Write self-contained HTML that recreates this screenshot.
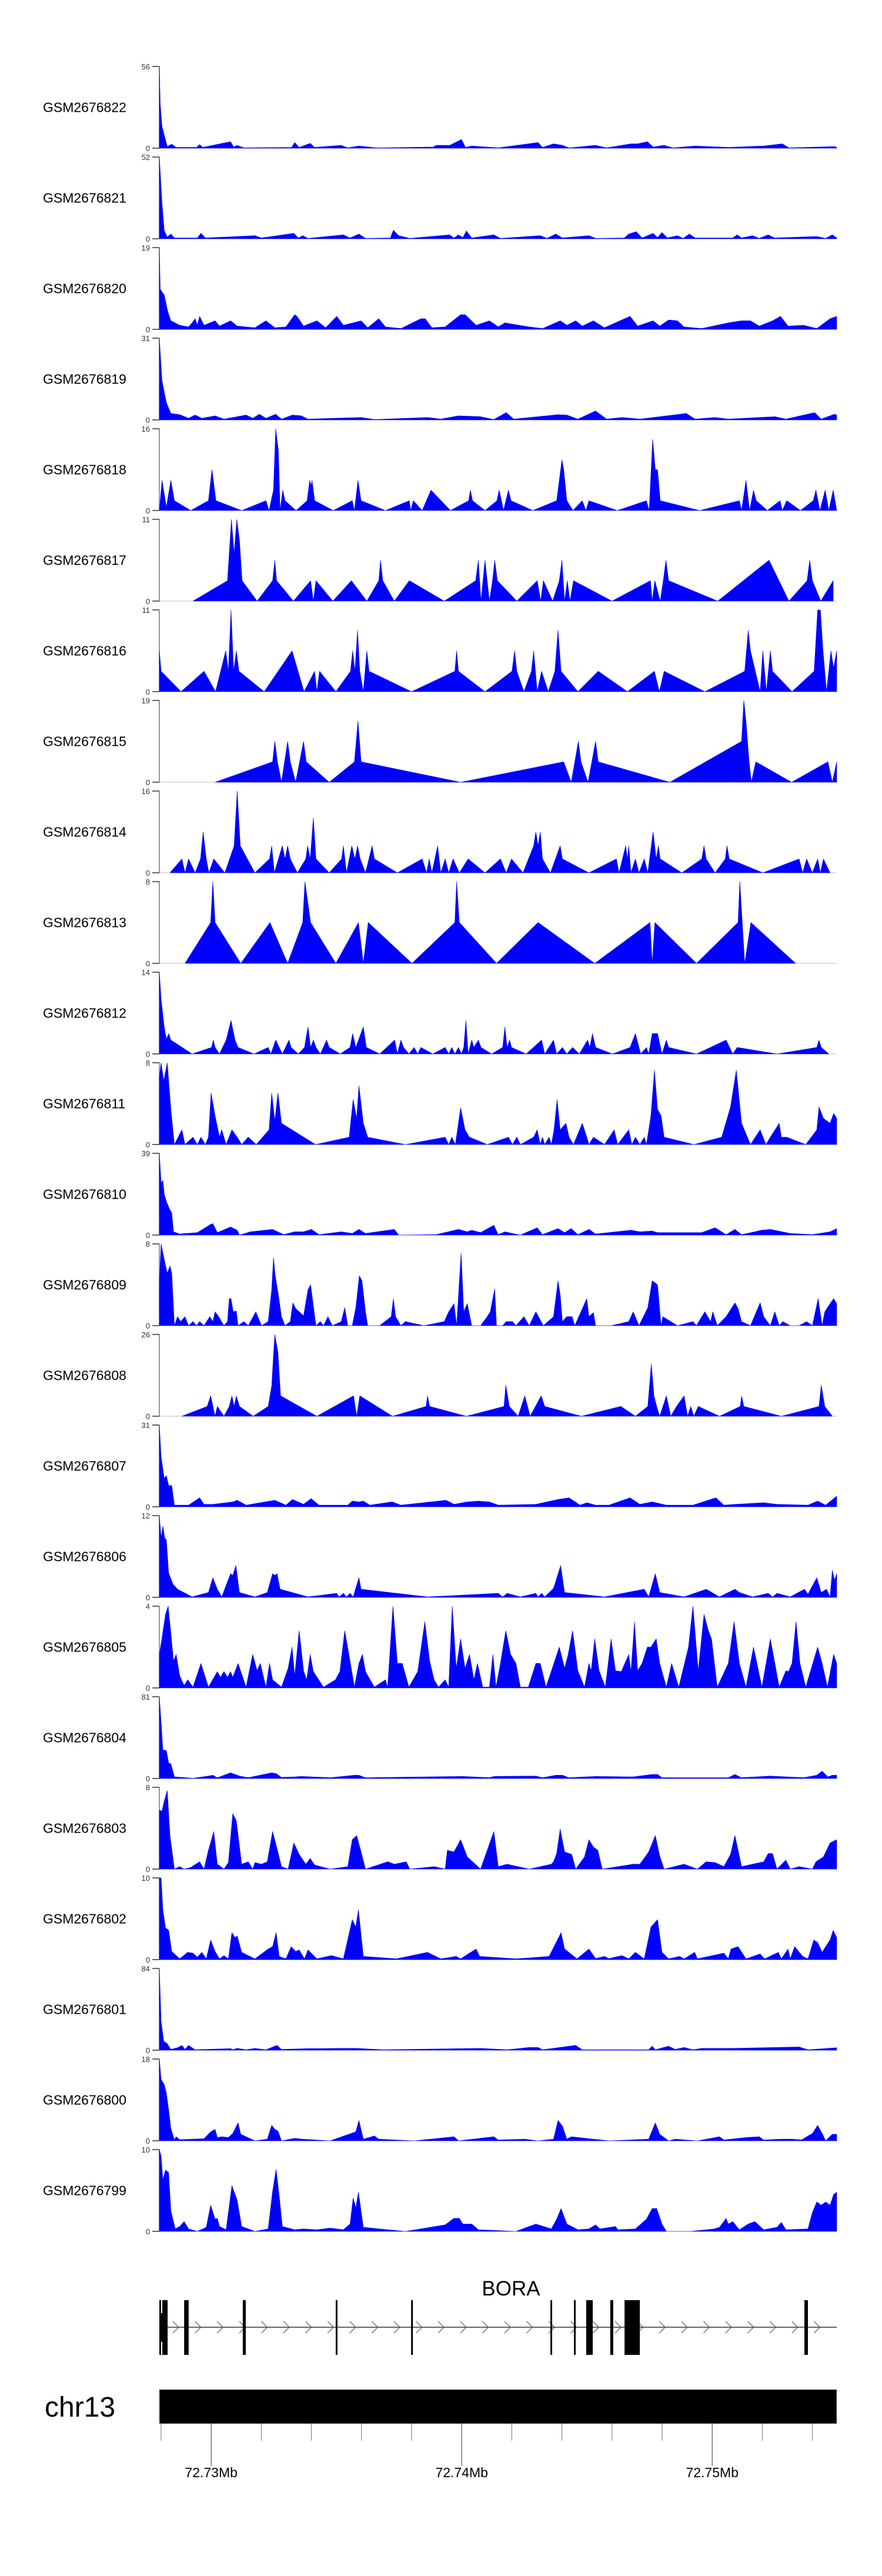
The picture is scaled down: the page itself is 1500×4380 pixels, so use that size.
<!DOCTYPE html>
<html>
<head>
<meta charset="utf-8">
<style>
  html,body{margin:0;padding:0;background:#fff;}
  svg{display:block;}
  text{font-family:"Liberation Sans",Arial,sans-serif;}
</style>
</head>
<body>
<svg id="chart" width="1500" height="4380" viewBox="0 0 1500 4380" xmlns="http://www.w3.org/2000/svg"></svg>
<script>
// ---- data ----
const sampleNames = ["GSM2676822","GSM2676821","GSM2676820","GSM2676819","GSM2676818","GSM2676817","GSM2676816","GSM2676815","GSM2676814","GSM2676813","GSM2676812","GSM2676811","GSM2676810","GSM2676809","GSM2676808","GSM2676807","GSM2676806","GSM2676805","GSM2676804","GSM2676803","GSM2676802","GSM2676801","GSM2676800","GSM2676799"];
const yMax = [56,52,19,31,16,11,11,19,16,8,14,8,39,8,26,31,12,4,81,8,10,84,18,10];
// coverage: [signal bin, % of track max]; bins 14..1545 span the genomic window
const cov1 = [[14,100],[16,54],[20,27],[25,16],[32,2],[42,5],[52,1],[98,1],[105,4.5],[112,1],[175,8],[182,1.5],[190,3.5],[205,0.5],[313,1],[320,7],[330,1],[355,6],[365,1],[425,3.5],[440,0.5],[465,2.7],[505,0.4],[633,1.5],[640,3.5],[670,3.5],[697,10.7],[706,1],[720,2.7],[780,0.5],[870,7],[880,1],[905,5.4],[925,3.5],[940,0.4],[1000,3.5],[1025,0.5],[1080,5.4],[1095,5.4],[1117,8],[1130,1.5],[1155,3.5],[1175,0.4],[1225,2.7],[1300,1],[1380,2.7],[1422,5.4],[1437,0.5],[1540,2],[1545,1]];
const cov2 = [[14,100],[20,44],[25,10],[32,2],[40,5.8],[48,1],[100,1],[108,6.7],[118,1],[230,3.8],[245,1],[318,6.7],[328,1],[338,3.8],[350,0.5],[430,4.8],[445,1],[465,5.8],[480,0.5],[536,1],[543,10.6],[555,3.8],[580,0.5],[670,4.8],[680,1],[690,4.8],[700,1.5],[708,9.6],[720,1],[770,4.8],[785,0.5],[875,3.8],[890,0.5],[910,5.8],[925,1],[985,3.8],[1000,0.5],[1065,1],[1075,5.8],[1092,8.7],[1105,1],[1130,6.7],[1140,1.5],[1150,7.7],[1162,1],[1185,3.8],[1198,0.5],[1212,5.8],[1225,1],[1310,1],[1320,4.8],[1330,1],[1355,3.8],[1370,0.5],[1390,4.8],[1405,1],[1500,2.9],[1520,0.5],[1535,4.8],[1545,1]];
const cov3 = [[14,100],[16,49],[25,42],[33,22],[40,10.5],[60,5],[80,3],[88,8],[95,13],[100,5],[105,16],[115,5],[140,10.5],[150,4],[175,10.5],[190,4],[230,2],[255,10.5],[275,2],[300,3],[320,18],[325,16],[340,4],[370,10.5],[390,2],[415,16],[430,5],[470,10.5],[485,2],[510,13],[525,3],[560,1],[605,13],[615,13],[630,2],[660,3],[695,18],[705,18],[730,5],[760,10.5],[780,3],[795,8],[850,3],[880,1],[920,10.5],[935,5],[955,10.5],[970,4],[995,10.5],[1020,2],[1078,16],[1095,4],[1130,10.5],[1145,4],[1165,11.5],[1185,10.5],[1200,3],[1240,1],[1300,8],[1330,10.5],[1350,10.5],[1370,4],[1400,10.5],[1418,16],[1435,4],[1470,5],[1500,1],[1530,13],[1545,16]];
const cov4 = [[14,100],[20,48],[30,21],[40,8],[60,6.5],[80,2],[95,6],[110,2],[140,5],[160,1],[210,6],[225,2],[240,7],[255,2],[277,7],[290,1],[315,6],[335,5],[350,1],[470,3],[500,0.5],[620,3],[650,1],[690,5],[740,4],[770,0.5],[798,9],[815,1],[915,6.5],[935,6],[960,1],[1000,11],[1025,1],[1060,3],[1100,1],[1205,8],[1225,1],[1270,3],[1300,1],[1405,4],[1430,1],[1495,9],[1510,1],[1540,7],[1545,6]];
const cov5 = [[14,0],[20,37],[30,4],[40,37],[48,12],[85,0],[125,12],[133,50],[142,12],[200,0],[255,12],[262,0],[272,25],[277,100],[283,74],[287,0],[293,25],[298,12],[323,0],[348,12],[354,37],[357,30],[359,37],[365,12],[407,0],[450,12],[455,0],[463,37],[470,12],[525,0],[579,12],[582,0],[588,12],[608,0],[628,25],[672,0],[713,12],[717,25],[722,12],[750,0],[777,12],[782,25],[792,0],[803,25],[809,12],[858,0],[912,12],[924,62],[928,50],[935,12],[949,0],[970,12],[978,0],[985,12],[1049,0],[1115,12],[1121,0],[1129,87],[1135,50],[1140,50],[1146,12],[1235,0],[1325,12],[1330,0],[1340,37],[1348,0],[1357,25],[1363,12],[1388,0],[1417,12],[1422,0],[1432,12],[1463,0],[1492,12],[1498,25],[1507,0],[1519,25],[1527,0],[1537,25],[1545,0]];
const cov6 = [[90,0],[168,25],[177,100],[183,58],[189,100],[195,75],[201,25],[235,0],[270,25],[275,50],[279,25],[317,0],[356,25],[362,0],[368,25],[406,0],[448,25],[483,0],[510,25],[514,50],[519,25],[545,0],[579,25],[658,0],[729,25],[735,50],[741,0],[750,50],[760,0],[767,25],[772,50],[778,25],[822,0],[868,25],[876,0],[882,25],[903,0],[918,25],[924,50],[930,0],[936,25],[942,0],[950,25],[1037,0],[1124,25],[1128,0],[1134,25],[1146,0],[1153,25],[1159,50],[1165,25],[1276,0],[1392,50],[1437,0],[1478,25],[1484,50],[1490,25],[1509,0],[1537,25]];
const cov7 = [[14,50],[18,25],[63,0],[115,25],[141,0],[164,50],[170,25],[176,100],[182,25],[188,50],[194,25],[251,0],[314,50],[341,0],[365,25],[370,0],[376,25],[413,0],[446,25],[451,50],[456,25],[462,75],[467,25],[475,0],[483,50],[488,25],[584,0],[682,25],[686,50],[690,25],[750,0],[811,25],[817,50],[822,25],[838,0],[855,25],[860,50],[868,0],[878,25],[893,0],[908,25],[915,75],[922,25],[960,0],[1006,25],[1072,0],[1133,25],[1144,0],[1155,25],[1247,0],[1337,25],[1345,75],[1350,50],[1372,0],[1378,50],[1386,0],[1395,50],[1400,25],[1444,0],[1494,25],[1502,100],[1508,100],[1514,50],[1522,0],[1532,50],[1538,29],[1545,50]];
const cov8 = [[140,0],[270,25],[275,50],[281,25],[290,0],[304,50],[310,25],[322,0],[340,50],[346,25],[398,0],[455,25],[463,75],[470,25],[695,0],[928,25],[945,0],[961,50],[967,25],[983,0],[1000,50],[1006,25],[1168,0],[1330,50],[1335,100],[1340,75],[1347,25],[1352,0],[1362,25],[1443,0],[1525,25],[1535,0],[1545,25]];
const cov9 = [[38,0],[65,17],[72,0],[80,17],[95,0],[107,17],[113,50],[120,17],[126,0],[137,17],[162,0],[183,33],[190,100],[197,33],[230,0],[263,17],[268,33],[274,0],[292,33],[298,17],[304,33],[310,17],[326,0],[345,17],[349,33],[355,17],[362,67],[368,17],[398,0],[426,17],[430,33],[437,0],[449,33],[456,17],[462,33],[468,17],[480,0],[495,33],[500,17],[552,0],[608,17],[618,0],[624,17],[630,0],[643,33],[650,0],[660,17],[668,0],[678,17],[692,0],[712,17],[750,0],[785,17],[798,0],[810,17],[836,0],[860,33],[865,50],[870,33],[875,50],[880,17],[898,0],[920,33],[925,17],[985,0],[1047,17],[1053,0],[1068,33],[1072,17],[1075,33],[1080,0],[1090,17],[1098,0],[1110,17],[1118,0],[1130,50],[1137,17],[1142,33],[1146,17],[1195,0],[1240,17],[1245,33],[1250,17],[1270,0],[1293,17],[1297,33],[1302,17],[1378,0],[1460,17],[1468,0],[1477,17],[1490,0],[1502,17],[1508,0],[1515,17],[1530,0]];
const cov10 = [[72,0],[130,50],[135,100],[140,50],[198,0],[264,50],[304,0],[338,50],[343,100],[356,50],[413,0],[464,50],[475,0],[486,50],[585,0],[682,50],[686,100],[692,50],[776,0],[870,50],[998,0],[1123,50],[1128,0],[1134,50],[1228,0],[1322,50],[1326,100],[1337,0],[1351,50],[1452,0]];
const cov11 = [[14,100],[18,67],[25,33],[30,18],[35,25],[40,17],[88,0],[132,8],[136,17],[140,8],[150,0],[165,17],[176,41],[185,17],[192,8],[228,0],[260,8],[266,0],[277,17],[285,8],[292,0],[307,17],[312,8],[328,0],[342,8],[350,33],[356,8],[362,17],[368,8],[378,0],[392,17],[398,8],[423,0],[445,8],[451,25],[458,8],[475,33],[482,8],[512,0],[546,17],[552,0],[560,17],[566,8],[578,0],[590,8],[598,0],[605,8],[632,0],[660,8],[668,0],[675,8],[682,0],[690,8],[697,0],[702,8],[707,41],[712,0],[720,17],[725,8],[735,17],[741,8],[765,0],[790,8],[795,33],[800,8],[806,17],[810,8],[843,0],[878,17],[885,0],[905,17],[912,0],[925,8],[935,0],[948,8],[963,0],[982,17],[987,8],[993,25],[1000,8],[1038,0],[1078,8],[1090,25],[1102,0],[1115,8],[1120,0],[1128,25],[1134,25],[1140,25],[1150,0],[1160,17],[1165,8],[1228,0],[1295,17],[1310,0],[1320,8],[1410,0],[1500,8],[1505,17],[1510,8],[1527,0]];
const cov12 = [[14,83],[18,100],[24,78],[32,100],[40,43],[48,0],[65,18],[72,0],[90,9],[100,0],[108,9],[118,0],[125,9],[131,63],[140,35],[150,9],[155,18],[165,0],[178,18],[190,9],[200,0],[215,9],[233,0],[262,18],[268,63],[275,29],[282,63],[290,26],[367,0],[443,9],[452,55],[460,32],[465,72],[475,26],[485,9],[570,0],[660,9],[668,0],[675,9],[683,0],[690,26],[695,45],[705,18],[715,9],[755,0],[803,9],[812,0],[822,9],[830,0],[860,9],[868,18],[875,0],[880,9],[885,0],[895,9],[900,0],[906,18],[913,55],[920,18],[933,26],[940,9],[950,0],[970,26],[980,9],[985,0],[995,9],[1020,0],[1042,18],[1050,0],[1075,18],[1082,0],[1090,9],[1100,0],[1110,9],[1115,0],[1125,35],[1133,91],[1140,43],[1148,35],[1155,9],[1222,0],[1285,9],[1305,46],[1318,91],[1330,26],[1350,0],[1372,18],[1385,0],[1395,9],[1415,26],[1420,9],[1432,9],[1475,0],[1500,18],[1505,46],[1515,32],[1530,26],[1538,38],[1545,32]];
const cov13 = [[14,100],[18,64],[22,67],[25,50],[30,41],[36,33],[42,27],[46,4],[60,1.4],[100,3],[130,13],[135,14],[145,3],[175,10],[190,6],[195,0],[220,4],[270,7],[295,0.6],[320,4],[340,4],[358,7],[375,0.6],[425,4],[450,2],[465,7],[480,2],[545,7],[555,0],[640,0.6],[690,7],[710,4],[720,6],[740,3],[770,12],[780,0.6],[795,4],[830,0],[868,9],[880,0.6],[915,8],[930,3],[945,8],[960,0.6],[985,7],[1000,1.4],[1080,6],[1100,4],[1128,5],[1140,3],[1240,3],[1270,9],[1295,0.6],[1315,7],[1330,0.6],[1360,4],[1375,6],[1395,7],[1440,2],[1490,0.6],[1530,4],[1545,8]];
const cov14 = [[14,55],[18,100],[25,81],[32,64],[38,73],[42,64],[48,0],[55,11],[62,5],[72,11],[80,0],[90,5],[98,0],[105,5],[115,0],[128,11],[135,5],[140,17],[148,11],[160,0],[168,5],[172,33],[176,33],[181,17],[188,18],[192,0],[205,5],[215,0],[232,17],[245,0],[260,5],[268,44],[272,83],[276,61],[283,38],[290,11],[298,0],[310,5],[316,28],[322,21],[330,17],[340,12],[350,44],[356,50],[362,24],[368,0],[378,5],[385,0],[395,11],[405,0],[425,5],[433,22],[440,0],[450,0],[458,22],[466,61],[472,55],[480,17],[485,0],[512,0],[538,11],[543,33],[548,11],[560,0],[570,5],[612,0],[658,5],[668,17],[680,27],[686,0],[696,89],[702,17],[710,27],[720,0],[740,0],[755,11],[762,17],[772,45],[776,0],[790,0],[798,5],[812,5],[820,0],[838,11],[850,0],[865,17],[882,0],[905,11],[915,55],[920,38],[925,5],[935,11],[947,11],[953,0],[962,11],[980,33],[985,11],[995,16],[1000,0],[1035,0],[1075,5],[1085,17],[1098,0],[1118,22],[1128,55],[1140,50],[1148,0],[1152,11],[1185,0],[1220,5],[1228,0],[1240,11],[1247,17],[1260,5],[1265,17],[1275,0],[1295,11],[1315,28],[1322,21],[1330,5],[1350,0],[1372,28],[1380,11],[1395,0],[1405,17],[1415,0],[1423,5],[1440,0],[1460,0],[1477,5],[1490,0],[1503,33],[1512,0],[1518,17],[1530,27],[1538,33],[1545,27]];
const cov15 = [[65,0],[122,12],[130,25],[140,0],[145,12],[160,0],[172,12],[178,25],[183,12],[188,25],[195,12],[226,0],[260,12],[268,37],[272,75],[275,100],[282,78],[288,25],[370,0],[453,25],[460,0],[467,25],[541,0],[617,12],[620,25],[625,12],[708,0],[793,12],[797,38],[805,12],[825,0],[840,25],[852,0],[877,25],[885,12],[968,0],[1057,12],[1090,0],[1118,12],[1126,64],[1132,25],[1138,12],[1145,0],[1160,25],[1170,0],[1183,12],[1200,25],[1208,0],[1215,12],[1222,0],[1232,12],[1280,0],[1327,12],[1330,25],[1335,12],[1420,0],[1505,12],[1510,38],[1518,12],[1535,0]];
const cov16 = [[14,100],[18,61],[25,35],[30,38],[35,26],[42,26],[48,2],[80,2],[105,11],[115,3],[135,3],[180,6],[190,8],[210,2],[275,8],[300,2],[315,9],[340,3],[357,10],[375,2],[440,2],[450,7],[465,6],[475,7],[490,2],[540,6],[560,2],[662,8],[680,3],[710,6],[735,7],[760,6],[780,2],[865,3],[915,9],[940,11],[965,2],[980,5],[1000,2],[1030,2],[1078,11],[1100,3],[1128,6],[1160,2],[1220,2],[1272,11],[1290,2],[1315,3],[1380,5],[1410,3],[1480,2],[1502,7],[1520,2],[1545,13]];
const cov17 = [[14,100],[18,73],[22,87],[26,73],[30,70],[35,30],[45,16],[55,10],[88,0.6],[125,6],[135,24],[145,10],[155,0.6],[175,29],[180,27],[187,39],[195,6],[230,0.6],[258,6],[270,29],[275,27],[280,29],[287,10],[350,0.6],[415,5],[420,0.6],[430,5],[437,0.6],[445,5],[452,0.6],[465,24],[470,10],[620,0.6],[780,5],[790,0.6],[800,5],[830,0.6],[865,5],[870,0.6],[878,5],[885,0.6],[905,11],[921,39],[930,6],[1020,0.6],[1110,10],[1120,0.6],[1135,29],[1145,6],[1200,0.6],[1250,10],[1280,0.6],[1315,10],[1325,6],[1355,0.6],[1390,5],[1400,0.6],[1410,5],[1440,0.6],[1472,10],[1480,4],[1500,24],[1510,6],[1522,10],[1530,0.6],[1535,33],[1540,21],[1545,29]];
const cov18 = [[14,41],[20,61],[28,90],[34,100],[40,67],[46,33],[52,41],[60,15],[70,3],[78,10],[90,1],[108,30],[125,1],[145,20],[152,13],[160,20],[168,13],[175,20],[180,13],[192,30],[210,1],[225,41],[235,21],[242,30],[255,1],[263,30],[270,10],[290,1],[305,24],[314,50],[320,15],[330,70],[340,21],[347,10],[355,41],[362,20],[385,1],[412,10],[422,20],[433,70],[445,33],[455,1],[465,30],[473,41],[480,20],[500,1],[525,10],[530,1],[542,100],[552,30],[563,30],[578,1],[598,20],[614,81],[625,33],[635,10],[645,1],[660,10],[668,1],[676,100],[685,24],[695,60],[705,24],[715,41],[725,10],[733,30],[745,1],[760,1],[768,41],[775,1],[785,30],[797,70],[808,41],[820,30],[830,1],[848,1],[865,30],[875,30],[888,1],[918,50],[930,24],[938,41],[948,70],[960,21],[975,1],[985,30],[990,21],[998,60],[1008,21],[1022,1],[1035,60],[1045,21],[1058,20],[1075,41],[1080,20],[1088,81],[1095,21],[1105,30],[1117,50],[1125,50],[1137,60],[1145,30],[1160,1],[1172,30],[1188,1],[1210,50],[1220,100],[1232,21],[1245,90],[1255,70],[1262,60],[1275,1],[1300,30],[1313,81],[1325,30],[1340,1],[1357,50],[1376,1],[1395,60],[1415,1],[1430,21],[1436,20],[1444,30],[1453,81],[1462,30],[1475,1],[1502,50],[1512,30],[1524,1],[1538,41],[1545,30]];
const cov19 = [[14,100],[18,69],[22,35],[30,34],[35,19],[40,18],[48,2],[90,0.3],[125,3],[135,4],[145,1],[175,7],[195,3],[215,1],[268,7],[278,6],[290,1.4],[320,2],[335,2.6],[400,1],[455,4],[465,4],[480,1],[700,2.6],[760,1],[770,2.6],[865,3],[880,1],[910,4],[925,4],[940,1],[1000,2.6],[1085,2],[1128,5],[1140,5],[1150,1],[1300,1],[1315,5],[1330,1],[1395,3],[1470,1],[1500,4],[1512,9],[1525,2],[1535,4],[1545,4]];
const cov20 = [[14,72],[20,71],[25,83],[32,96],[38,41],[48,0],[60,3],[70,0],[85,2],[105,9],[115,0],[125,23],[137,46],[145,6],[160,0],[170,8],[180,68],[188,59],[200,6],[215,9],[225,0],[230,8],[245,6],[258,9],[270,46],[280,25],[290,3],[305,0],[318,32],[330,18],[345,6],[355,13],[365,5],[400,0],[440,3],[450,36],[460,41],[470,21],[480,0],[530,9],[545,6],[572,9],[580,0],[635,3],[660,0],[665,23],[680,21],[695,36],[710,15],[740,0],[770,46],[780,3],[800,6],[850,0],[900,6],[905,9],[912,19],[920,49],[930,21],[946,18],[955,0],[975,15],[985,36],[995,27],[1005,23],[1015,0],[1085,6],[1100,6],[1120,21],[1135,41],[1145,16],[1155,0],[1200,6],[1230,0],[1250,9],[1270,8],[1290,3],[1305,18],[1315,41],[1330,3],[1380,9],[1390,19],[1400,19],[1410,0],[1430,11],[1440,0],[1460,3],[1490,0],[1498,9],[1515,15],[1530,32],[1545,36]];
const cov21 = [[14,100],[18,100],[22,61],[28,39],[35,36],[42,10],[60,1],[78,9],[90,8],[100,3],[110,9],[120,1],[130,24],[140,10],[150,1],[160,5],[170,1],[178,33],[185,27],[190,29],[195,19],[200,9],[230,1],[260,13],[270,16],[278,33],[285,4],[300,1],[312,16],[322,10],[330,12],[342,1],[350,12],[370,1],[403,5],[430,1],[450,49],[458,40],[464,61],[475,4],[550,1],[620,9],[650,1],[685,4],[695,1],[712,7],[730,13],[738,4],[820,1],[895,4],[922,33],[930,13],[958,1],[985,13],[1000,1.4],[1020,4],[1030,1.4],[1060,5],[1075,1],[1090,9],[1110,1],[1125,40],[1132,44],[1140,49],[1150,9],[1165,1],[1190,4],[1200,1],[1224,9],[1230,1],[1290,8],[1300,1],[1306,13],[1322,16],[1340,1],[1372,7],[1382,1],[1413,9],[1420,1],[1435,13],[1440,1],[1450,16],[1468,4],[1480,1],[1493,24],[1502,21],[1512,9],[1520,16],[1530,24],[1537,36],[1545,27]];
const cov22 = [[14,100],[18,35],[24,11],[32,8],[40,1],[55,3],[65,6],[72,1],[80,6],[95,0.6],[175,2],[180,0.6],[190,2.3],[210,0.6],[230,2.3],[255,0.6],[280,6],[290,1],[350,2],[365,2],[380,2],[425,2.3],[460,2.3],[520,0.6],[740,2.3],[800,0.6],[850,3.4],[870,3.4],[880,0.6],[955,6],[970,0.6],[1120,0.6],[1128,5],[1135,0.6],[1165,5],[1180,1],[1200,3.4],[1220,0.6],[1240,2.3],[1310,2.3],[1460,4],[1480,0.6],[1545,3]];
const cov23 = [[14,100],[18,75],[25,69],[30,58],[35,38],[40,15],[48,1.4],[52,5],[60,1.4],[90,2],[115,2.6],[130,11],[140,14],[145,4],[155,5],[170,4],[180,9],[192,22],[198,8],[230,0],[258,2],[268,19],[275,14],[282,12],[290,0],[320,3],[338,2],[400,0],[458,11],[465,25],[475,2],[500,6],[510,2],[590,0],[680,5],[690,0],[770,5],[780,1],[840,2],[870,0],[905,2],[915,25],[925,18],[935,2],[945,5],[1030,0],[1120,2],[1135,22],[1145,8],[1165,0],[1180,2],[1230,0],[1280,5],[1290,1],[1340,4],[1370,5],[1380,1],[1420,2],[1445,2],[1465,1],[1490,9],[1502,19],[1512,9],[1520,0],[1535,8],[1545,8]];
const cov24 = [[14,100],[18,92],[22,63],[28,75],[35,72],[40,25],[50,3],[60,6],[70,12],[80,3],[100,0],[120,5],[130,32],[140,15],[145,16],[150,6],[165,2],[178,56],[190,38],[200,6],[230,0],[260,3],[270,49],[278,76],[285,43],[292,6],[320,2],[340,3],[370,2],[400,4],[430,2],[445,9],[452,41],[458,29],[464,48],[475,5],[570,0],[660,8],[680,16],[692,16],[700,9],[720,9],[735,2],[820,0],[865,9],[900,3],[912,15],[922,28],[935,9],[960,2],[985,3],[1000,8],[1010,3],[1045,6],[1050,2],[1090,3],[1115,15],[1128,28],[1138,28],[1150,9],[1160,0],[1215,0],[1268,3],[1280,5],[1295,16],[1300,9],[1310,12],[1325,2],[1345,9],[1360,12],[1380,2],[1410,5],[1420,11],[1430,2],[1480,3],[1490,23],[1500,36],[1510,32],[1520,36],[1530,32],[1538,45],[1545,48]];
const coverage = [cov1,cov2,cov3,cov4,cov5,cov6,cov7,cov8,cov9,cov10,cov11,cov12,cov13,cov14,cov15,cov16,cov17,cov18,cov19,cov20,cov21,cov22,cov23,cov24];
// gene model (BORA, chr13) in bp
const exonStarts = [72727930,72728920,72731260,72734970,72737980,72743540,72744480,72744970,72745930,72746500,72753680];
const exonEnds   = [72728260,72729100,72731380,72735040,72738050,72743610,72744550,72745230,72746050,72747110,72753820];
const axisTicks = [72728000,72730000,72732000,72734000,72736000,72738000,72740000,72742000,72744000,72746000,72748000,72750000,72752000,72754000];
const axisLabels = ["72.73Mb","72.74Mb","72.75Mb"];
const axisLabelPos = [72730000,72740000,72750000];

// ---- layout ----
const NS = "http://www.w3.org/2000/svg";
const svg = document.getElementById("chart");
const X0 = 271, X1 = 1423;
const gStart = 72727930, gEnd = 72754970;
const binMin = 14, binMax = 1545;
const xBp = bp => X0 + (bp - gStart) / (gEnd - gStart) * (X1 - X0);
const xBin = b => X0 + (b - binMin) / (binMax - binMin) * (X1 - X0);
const TOP0 = 113, PITCH = 154, H = 139;

function mk(tag, attrs, parent) {
  const el = document.createElementNS(NS, tag);
  for (const k in attrs) el.setAttribute(k, attrs[k]);
  (parent || svg).appendChild(el);
  return el;
}

sampleNames.forEach((name, i) => {
  const top = TOP0 + i * PITCH, base = top + H;
  const g = mk("g", {});
  
  

  const lbl = mk("text", {x: 73, y: top + H / 2 + 8, "font-size": 23, fill: "#000"}, g);
  lbl.textContent = name;
  
  

  const ax = mk("line", {x1: X0, y1: top, x2: X0, y2: base, stroke: "#777", "stroke-width": 1.5}, g);
  
  
  [top, base].forEach(yy => {
    const t = mk("line", {x1: 259, y1: yy, x2: X0, y2: yy, stroke: "#333", "stroke-width": 1.5}, g);
    
    
  });
  const tMax = mk("text", {x: 255, y: top + 5, "font-size": 13, fill: "#333", "text-anchor": "end"}, g);
  tMax.textContent = yMax[i];
  
  
  const tMin = mk("text", {x: 255, y: base + 5, "font-size": 13, fill: "#333", "text-anchor": "end"}, g);
  tMin.textContent = "0";
  
  

  const bl = mk("line", {x1: X0, y1: base, x2: X1, y2: base, stroke: "#bbb", "stroke-width": 1}, g);
  
  

  const pts = coverage[i];
  const yv = v => base - (v / 100) * H;
  let d = "M" + xBin(pts[0][0]).toFixed(1) + "," + base;
  pts.forEach(p => { d += " L" + xBin(p[0]).toFixed(1) + "," + yv(p[1]).toFixed(1); });
  d += " L" + xBin(pts[pts.length - 1][0]).toFixed(1) + "," + base + " Z";
  const area = mk("path", {d: d, fill: "#0000ff", stroke: "#0000ff", "stroke-width": 0.6, "stroke-linejoin": "round"}, g);
  
  
});

// gene track
const gg = mk("g", {});


const gl = mk("text", {x: 869, y: 3903, "font-size": 35, "text-anchor": "middle", fill: "#000"}, gg);
gl.textContent = "BORA";


const intron = mk("line", {x1: X0, y1: 3957, x2: X1, y2: 3957, stroke: "#333", "stroke-width": 1.5}, gg);


for (let tip = 304; tip <= X1; tip += 37.6) {
  const c = mk("polyline", {points: (tip - 10) + ",3947 " + tip + ",3957 " + (tip - 10) + ",3967", fill: "none", stroke: "#555", "stroke-width": 1.2}, gg);
  
  
}
exonStarts.forEach((s, k) => {
  const x1 = xBp(s), x2 = xBp(exonEnds[k]);
  const r = mk("rect", {x: x1, y: 3911, width: Math.max(3, x2 - x1), height: 93, fill: "#000"}, gg);
  
  
});
[[3911, 22], [3982, 22]].forEach(p => {
  const w = mk("rect", {x: 274, y: p[0], width: 2, height: p[1], fill: "#fff"}, gg);
  
  
});

// chromosome / genome axis
const cg = mk("g", {});


const chrLbl = mk("text", {x: 76, y: 4109, "font-size": 48, fill: "#000"}, cg);
chrLbl.textContent = "chr13";


const bar = mk("rect", {x: X0, y: 4063, width: X1 - X0, height: 58, fill: "#000", stroke: "#999", "stroke-width": 1}, cg);


axisTicks.forEach(t => {
  const long = axisLabelPos.indexOf(t) >= 0;
  const tk = mk("line", {x1: xBp(t), y1: 4121, x2: xBp(t), y2: long ? 4193 : 4150, stroke: long ? "#555" : "#888", "stroke-width": 1.2}, cg);
  
  
});
axisLabels.forEach((lab, k) => {
  const t = mk("text", {x: xBp(axisLabelPos[k]), y: 4212, "font-size": 23, "text-anchor": "middle", fill: "#000"}, cg);
  t.textContent = lab;
  
  
});
</script>
</body>
</html>
